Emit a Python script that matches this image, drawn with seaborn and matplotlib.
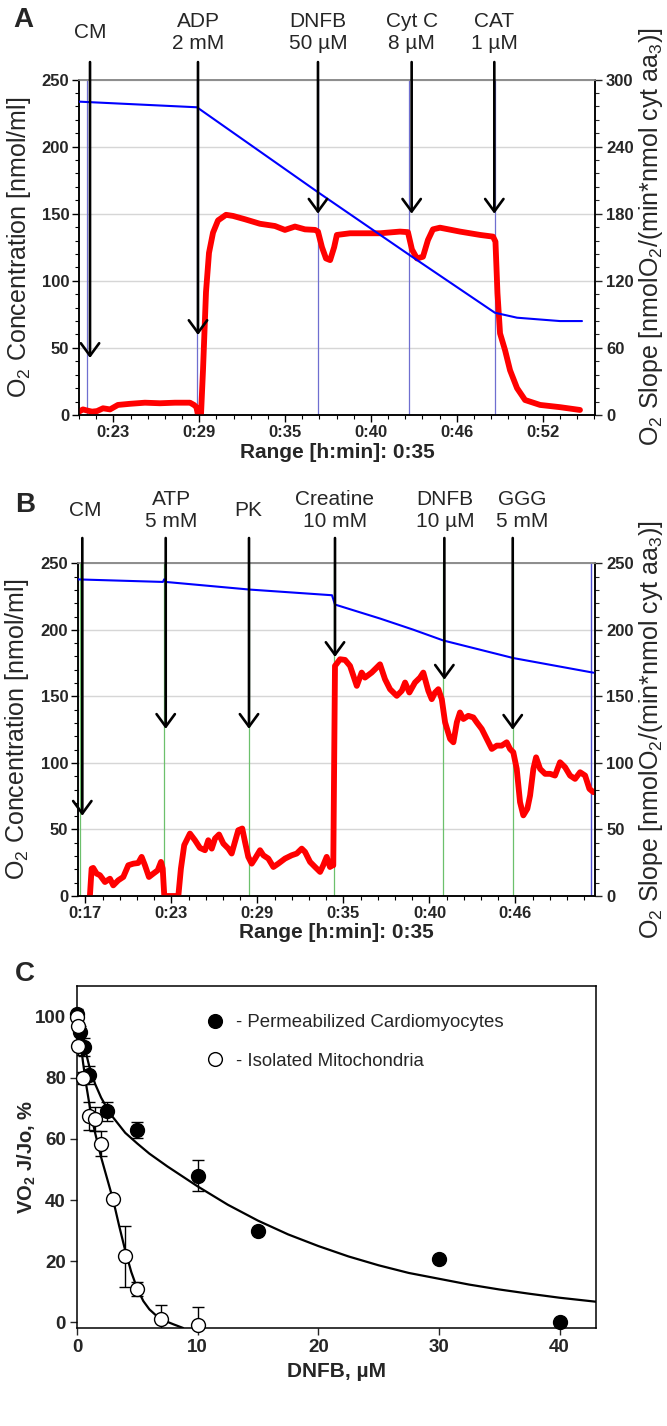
import matplotlib
matplotlib.use("Agg")
import matplotlib.pyplot as plt
import matplotlib.transforms as mtransforms
from matplotlib.lines import Line2D
from matplotlib.ticker import MultipleLocator, FixedLocator
import seaborn as sns

# ---------------- Panel A data (time in minutes) ----------------
a_blue = [(20.59, 233.5), (28.84, 229.3), (37.30, 166.0), (43.66, 119.5),
          (49.67, 76.2), (51.22, 72.5), (54.22, 70.0), (55.76, 70.0)]
a_red = [(20.59, 3), (20.87, 5), (21.15, 4), (21.50, 3), (21.85, 3.5), (22.27, 6),
         (22.76, 5), (23.31, 9), (24.15, 10), (25.20, 11), (26.25, 10.5), (27.30, 11),
         (28.35, 11), (28.63, 9), (28.80, 7), (28.91, 0), (29.12, 0), (29.26, 40),
         (29.47, 110), (29.68, 145), (29.96, 163), (30.31, 174), (30.87, 179),
         (31.36, 178), (32.20, 175), (33.24, 171), (34.29, 169), (34.99, 165.5),
         (35.69, 168.5), (36.39, 166), (37.10, 165.5), (37.30, 164), (37.58, 150),
         (37.86, 140), (38.15, 138.5), (38.43, 150), (38.62, 161), (39.54, 162.5),
         (41.64, 162.5), (43.03, 164), (43.59, 163.5), (43.87, 148), (44.22, 140),
         (44.64, 141.5), (44.99, 156.5), (45.34, 166), (45.83, 167.5), (47.23, 164),
         (48.64, 161), (49.54, 159.5), (49.71, 155), (49.85, 109), (50.03, 73),
         (50.38, 58), (50.73, 40), (51.22, 24), (51.78, 13.4), (52.83, 9),
         (54.22, 7), (55.62, 4.5)]
a_labels = ["CM", "ADP\n2 mM", "DNFB\n50 \u00b5M", "Cyt C\n8 \u00b5M", "CAT\n1 \u00b5M"]
a_arrow_t = [21.36, 28.91, 37.30, 43.85, 49.63]
a_arrow_tip = [42.5, 59.6, 150, 150, 150]
a_vline_t = [21.17, 28.82, 37.30, 43.66, 49.67]
a_xticks = [23, 29, 35, 41, 47, 53]
a_xticklabels = ["0:23", "0:29", "0:35", "0:40", "0:46", "0:52"]

# ---------------- Panel B data ----------------
b_blue = [(16.48, 237.9), (22.40, 236.0), (22.50, 238.0), (22.60, 236.0),
          (28.41, 230.3), (34.20, 226.0), (34.41, 219.0), (37.55, 208.5),
          (39.85, 200.2), (41.97, 192.0), (46.85, 178.8), (52.44, 167.8)]
b_red = [(17.31, 0), (17.43, 20.6), (17.54, 21.1), (17.78, 16.8), (18.01, 15.6),
         (18.36, 10.5), (18.71, 13), (18.94, 8), (19.29, 11.8), (19.64, 14.3),
         (19.99, 23.1), (20.34, 24.3), (20.68, 24.8), (20.92, 29.4), (21.15, 23.1),
         (21.43, 14.3), (21.73, 16.8), (22.04, 19.3), (22.27, 25.6), (22.39, 20.6),
         (22.50, 0), (23.48, 0), (23.66, 20.6), (23.89, 38.2), (24.29, 46.9),
         (24.64, 41.9), (24.99, 36.1), (25.34, 34.4), (25.57, 41.9), (25.81, 35.6),
         (26.04, 43.2), (26.32, 46.2), (26.62, 39.4), (26.97, 35.6), (27.20, 31.9),
         (27.43, 40.7), (27.66, 49.4), (27.94, 50.7), (28.13, 40.7), (28.36, 29.4),
         (28.60, 24.3), (28.83, 28.1), (29.18, 34.4), (29.41, 30.6), (29.76, 28.1),
         (30.11, 21.8), (30.45, 24.3), (30.92, 28.1), (31.39, 30.6), (31.74, 31.9),
         (32.09, 35.6), (32.32, 33.1), (32.67, 25.6), (33.02, 21.8), (33.37, 18.1),
         (33.59, 23.1), (33.83, 29.4), (34.06, 21.8), (34.18, 23.1), (34.29, 23),
         (34.41, 172.9), (34.76, 177.9), (35.11, 177.4), (35.46, 172.9), (35.93, 157.9),
         (36.27, 167.9), (36.50, 164.1), (36.97, 167.9), (37.55, 174.1), (37.90, 162.9),
         (38.25, 155.4), (38.72, 150.4), (39.07, 154.2), (39.30, 160.4), (39.60, 152.9),
         (39.99, 160.4), (40.34, 164.1), (40.57, 167.9), (40.92, 154.2), (41.16, 147.9),
         (41.39, 152.9), (41.62, 155.4), (41.86, 147.9), (42.09, 130.5), (42.44, 118),
         (42.67, 115.5), (42.91, 130.5), (43.13, 137.9), (43.37, 133), (43.71, 135.4),
         (44.06, 134.2), (44.30, 130.5), (44.65, 125.5), (45.00, 118), (45.35, 110.5),
         (45.70, 113), (46.04, 113), (46.39, 115.5), (46.62, 110.5), (46.85, 108),
         (47.09, 95.5), (47.32, 70.5), (47.55, 60.6), (47.83, 65.6), (48.02, 75.5),
         (48.25, 95.5), (48.44, 104.2), (48.72, 95.5), (49.07, 91.8), (49.42, 91.8),
         (49.76, 90.5), (50.11, 100.5), (50.46, 96.8), (50.81, 90.5), (51.16, 88),
         (51.51, 93), (51.86, 90.5), (52.16, 80.5), (52.44, 78)]
b_labels = ["CM", "ATP\n5 mM", "PK", "Creatine\n10 mM", "DNFB\n10 \u00b5M", "GGG\n5 mM"]
b_label_t = [16.97, 22.99, 28.34, 34.41, 42.09, 47.48]
b_arrow_t = [16.78, 22.60, 28.41, 34.41, 42.04, 46.81]
b_arrow_tip = [60.3, 125.6, 125.6, 179.6, 162.5, 124.9]
b_vline_t = [16.65, 22.50, 28.41, 34.36, 41.97, 46.85]
b_end_vline = 52.28
b_xticks = [17, 23, 29, 35, 41, 47]
b_xticklabels = ["0:17", "0:23", "0:29", "0:35", "0:40", "0:46"]

# ---------------- Panel C data ----------------
perm_x = [0, 0.25, 0.6, 1, 2.5, 5, 10, 15, 30, 40]
perm_y = [101, 95, 90, 81, 69, 63, 48, 30, 20.7, 0]
perm_err = [1.5, 2, 3, 3, 3, 2.6, 5, 0, 0, 0]
mito_x = [0, 0.05, 0.1, 0.5, 1, 1.5, 2, 3, 4, 5, 7, 10]
mito_y = [100, 97, 90.5, 80, 67.5, 66.5, 58.5, 40.3, 21.7, 11, 1.2, -0.8]
mito_err = [0, 0, 3, 2, 4.7, 4, 4, 0, 10, 2.2, 4.5, 6]
perm_fit = [(0, 101), (0.3, 96), (0.6, 90.5), (1, 84), (1.5, 78), (2, 73.5), (2.5, 70),
            (3, 67), (4, 62), (5, 58.5), (6, 55.2), (7.5, 51), (10, 44.5), (12.5, 38.5),
            (15, 33.3), (17.5, 28.8), (20, 25), (22.5, 21.6), (25, 18.7), (27.5, 16.2),
            (30, 14.3), (32.5, 12.4), (35, 10.8), (37.5, 9.4), (40, 8.1), (43, 6.8)]
mito_fit = [(0, 100), (0.25, 93), (0.5, 85), (0.75, 78), (1.0, 72), (1.25, 66.5),
            (1.5, 62), (1.75, 58), (2.0, 54), (2.5, 47), (3, 40), (3.5, 31.5), (4, 23.5),
            (4.5, 16.5), (5, 11), (5.5, 7), (6, 4.3), (6.5, 2.5), (7, 1.2), (7.5, 0.2),
            (8, -0.6), (8.8, -1.8)]
c_legend = ["- Permeabilized Cardiomyocytes", "- Isolated Mitochondria"]

# ---------------- style ----------------
sns.set_theme(style="ticks")
plt.rcParams["font.family"] = ["Liberation Sans", "DejaVu Sans"]
plt.rcParams["mathtext.fontset"] = "custom"
plt.rcParams["mathtext.rm"] = "Liberation Sans"
plt.rcParams["mathtext.it"] = "Liberation Sans:italic"
plt.rcParams["mathtext.bf"] = "Liberation Sans:bold"
plt.rcParams["axes.linewidth"] = 1.0
plt.rcParams["axes.edgecolor"] = "black"

W, H = 667, 1426
fig = plt.figure(figsize=(W / 100, H / 100), dpi=100)


def rect(l, t, r, b):
    return [l / W, 1 - b / H, (r - l) / W, (b - t) / H]


def bold_ticks(ax, axis, ticks, labels, size=12):
    if axis == "x":
        ax.set_xticks(ticks)
        ax.set_xticklabels(labels, fontweight="bold", fontsize=size)
    else:
        ax.set_yticks(ticks)
        ax.set_yticklabels(labels, fontweight="bold", fontsize=size)


def trace_panel(box, blue, red, xlim, xticks, xticklabels, r_max, r_step, r_minor,
                vline_t, vline_color, arrow_t, arrow_tip, label_t, labels,
                arrow_top, label_y, end_vline=None, r_label_y=0.5):
    ax = fig.add_axes(box)
    ax2 = ax.twinx()
    ax.set_zorder(2)
    ax2.set_zorder(1)
    ax.patch.set_visible(False)

    ax2.grid(axis="y", color="#d6d6d6", lw=1.0)
    ax2.set_axisbelow(True)
    for t in vline_t:
        ax2.axvline(t, color=vline_color, lw=0.9, zorder=1)
    if end_vline is not None:
        ax2.axvline(end_vline, color="#4a4ad0", lw=1.0, zorder=1)

    rt, rv = zip(*red)
    sns.lineplot(x=list(rt), y=list(rv), ax=ax2, color="#ff0000", linewidth=4.2,
                 sort=False, estimator=None, zorder=3,
                 solid_capstyle="round", solid_joinstyle="round")
    bt, bv = zip(*blue)
    sns.lineplot(x=list(bt), y=list(bv), ax=ax, color="#0000ff", linewidth=1.5,
                 sort=False, estimator=None, zorder=3)

    ax.set_xlim(*xlim)
    ax.set_ylim(0, 250)
    ax2.set_ylim(0, r_max)

    bold_ticks(ax, "x", xticks, xticklabels)
    minor = [xticks[0] - 1.2 * k for k in (1, 2) if xticks[0] - 1.2 * k > xlim[0]]
    minor += [xticks[0] + 1.2 * k for k in range(1, 40) if xticks[0] + 1.2 * k < xlim[1]]
    ax.xaxis.set_minor_locator(FixedLocator(minor))
    bold_ticks(ax, "y", list(range(0, 251, 50)), [str(v) for v in range(0, 251, 50)])
    ax.yaxis.set_minor_locator(MultipleLocator(10))
    rticks = list(range(0, r_max + 1, r_step))
    bold_ticks(ax2, "y", rticks, [str(v) for v in rticks])
    ax2.yaxis.set_minor_locator(MultipleLocator(r_minor))

    ax.tick_params(axis="both", which="major", direction="out", length=5, width=1,
                   color="black", pad=2)
    ax.tick_params(axis="both", which="minor", direction="out", length=3, width=0.8,
                   color="black")
    ax.tick_params(axis="y", which="both", left=True, right=False)
    ax.tick_params(axis="x", which="both", bottom=True, top=False)
    ax2.tick_params(axis="y", which="major", direction="out", length=5, width=1,
                    right=True, left=False, pad=3)
    ax2.tick_params(axis="y", which="minor", direction="out", length=3, width=0.8,
                    right=True, left=False)

    for a in (ax, ax2):
        a.spines["top"].set_color("#8c8c8c")
        a.spines["top"].set_linewidth(1.2)
        for s in ("left", "right", "bottom"):
            a.spines[s].set_color("black")
            a.spines[s].set_linewidth(1.1)

    ax.set_ylabel("O$_2$ Concentration [nmol/ml]", fontsize=18)
    ax.yaxis.set_label_coords(-0.090, 0.5)
    ax2.set_ylabel("O$_2$ Slope [nmolO$_2$/(min*nmol cyt aa$_3$)]", fontsize=18)
    ax2.yaxis.set_label_coords(1.082, r_label_y)
    ax.set_xlabel("Range [h:min]: 0:35", fontsize=15, fontweight="bold", labelpad=2)

    trans = mtransforms.blended_transform_factory(ax.transData, ax.transAxes)
    for t, tip in zip(arrow_t, arrow_tip):
        ax.annotate("", xy=(t, tip), xycoords="data", xytext=(t, arrow_top),
                    textcoords=trans, annotation_clip=False,
                    arrowprops=dict(arrowstyle="->,head_length=0.45,head_width=0.33",
                                    lw=1.9, color="black", shrinkA=0, shrinkB=0,
                                    mutation_scale=20))
    for t, s in zip(label_t, labels):
        ax.text(t, label_y, s, transform=trans, ha="center", va="center",
                fontsize=15, linespacing=1.2, clip_on=False)
    return ax, ax2


# Panel A
trace_panel(rect(79, 79.5, 595, 415), a_blue, a_red, (20.59, 56.67), a_xticks,
            a_xticklabels, 300, 60, 12, a_vline_t, "#6f6fd0", a_arrow_t, a_arrow_tip,
            a_arrow_t, a_labels, 1.052, 1.140, r_label_y=0.53)
# Panel B
trace_panel(rect(78, 563.3, 595, 896), b_blue, b_red, (16.48, 52.55), b_xticks,
            b_xticklabels, 250, 50, 10, b_vline_t, "#6cc06c", b_arrow_t, b_arrow_tip,
            b_label_t, b_labels, 1.076, 1.159, end_vline=b_end_vline)

# Panel C
ax3 = fig.add_axes(rect(77, 986, 595.7, 1328))
ex = [x for x, e in zip(perm_x, perm_err) if e > 0]
ey = [y for y, e in zip(perm_y, perm_err) if e > 0]
ee = [e for e in perm_err if e > 0]
ax3.errorbar(ex, ey, yerr=ee, fmt="none", ecolor="black", elinewidth=1,
             capsize=4.5, capthick=1, zorder=2)
ex = [x for x, e in zip(mito_x, mito_err) if e > 0]
ey = [y for y, e in zip(mito_y, mito_err) if e > 0]
ee = [e for e in mito_err if e > 0]
ax3.errorbar(ex, ey, yerr=ee, fmt="none", ecolor="black", elinewidth=1,
             capsize=4.5, capthick=1, zorder=2)
fx, fy = zip(*perm_fit)
sns.lineplot(x=list(fx), y=list(fy), ax=ax3, color="black", linewidth=1.6,
             sort=False, estimator=None, zorder=2.5)
fx, fy = zip(*mito_fit)
sns.lineplot(x=list(fx), y=list(fy), ax=ax3, color="black", linewidth=1.6,
             sort=False, estimator=None, zorder=2.5)
sns.scatterplot(x=perm_x, y=perm_y, ax=ax3, s=100, color="black", edgecolor="black",
                linewidth=1, zorder=3, clip_on=False)
sns.scatterplot(x=mito_x, y=mito_y, ax=ax3, s=100, color="white", edgecolor="black",
                linewidth=1, zorder=4, clip_on=False)
ax3.set_xlim(0, 43)
ax3.set_ylim(-1.8, 110)
bold_ticks(ax3, "x", [0, 10, 20, 30, 40], ["0", "10", "20", "30", "40"], size=13.5)
bold_ticks(ax3, "y", [0, 20, 40, 60, 80, 100], ["0", "20", "40", "60", "80", "100"], size=13.5)
ax3.tick_params(axis="both", direction="out", length=5, width=1, pad=3,
                left=True, bottom=True, top=False, right=False)
for s in ax3.spines.values():
    s.set_color("black")
    s.set_linewidth(1.1)
ax3.set_ylabel(r"VO$_\mathbf{2}$ J/Jo, %", fontsize=14.5, fontweight="bold")
ax3.yaxis.set_label_coords(-0.075, 0.5)
ax3.set_xlabel("DNFB, \u00b5M", fontsize=15, fontweight="bold", labelpad=4)
handles = [Line2D([], [], marker="o", ls="none", mfc="black", mec="black", ms=9.9),
           Line2D([], [], marker="o", ls="none", mfc="white", mec="black", ms=9.9)]
ax3.legend(handles, c_legend, loc="upper left", bbox_to_anchor=(0.249, 0.918),
           frameon=False, fontsize=13.4, handlelength=1.0, handletextpad=0.6,
           labelspacing=1.15, borderpad=0, borderaxespad=0)

# panel letters
for letter, (x, y) in zip("ABC", [(23, 20), (25, 505), (25, 974)]):
    fig.text(x / W, 1 - y / H, letter, fontsize=20, fontweight="bold",
             ha="center", va="center")

fig.savefig("out.png", dpi=100, facecolor="white")
